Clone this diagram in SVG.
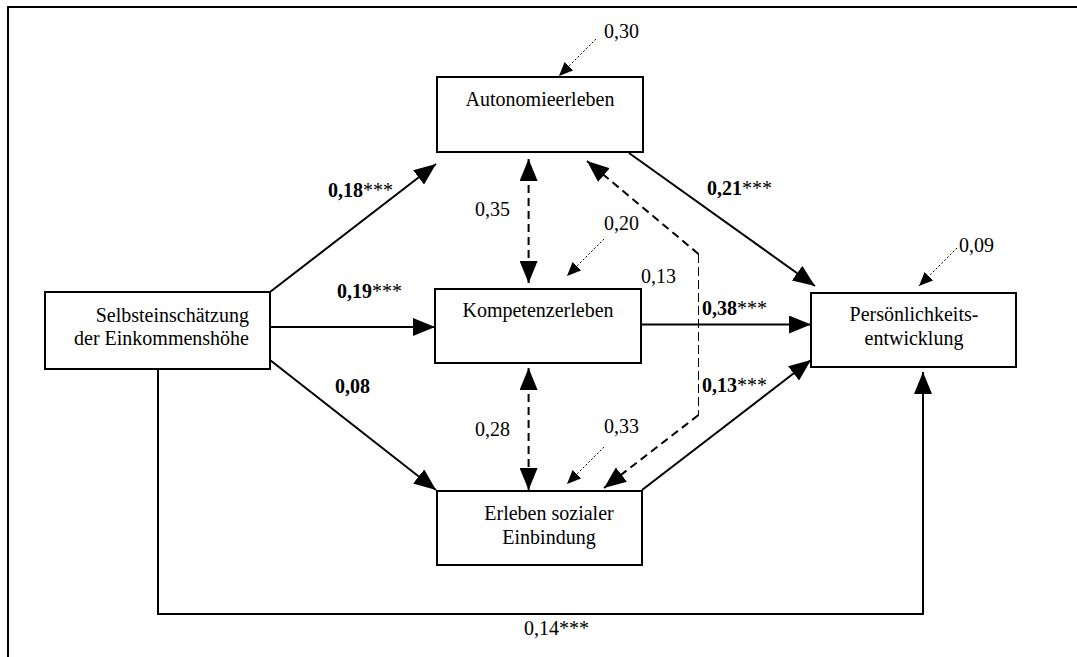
<svg xmlns="http://www.w3.org/2000/svg" width="1077" height="657" viewBox="0 0 1077 657" font-family="Liberation Serif, Times New Roman, DejaVu Serif, serif">
<style>
text{font-family:'Liberation Serif','Times New Roman','DejaVu Serif',serif;font-size:20px;fill:#000}
.b{font-weight:bold}
.box{fill:#fff;stroke:#000;stroke-width:2}
.ln{fill:none;stroke:#000;stroke-width:2}
.ds{fill:none;stroke:#000;stroke-width:2;stroke-dasharray:8,5}
.dt{fill:none;stroke:#000;stroke-width:1;stroke-dasharray:2,2}
.thin{fill:none;stroke:#000;stroke-width:1;stroke-dasharray:9,4}
</style>
<defs>
<marker id="ah" markerUnits="userSpaceOnUse" markerWidth="22" markerHeight="18" refX="22" refY="9" orient="auto"><path d="M0,0 L22,9 L0,18 z" fill="#000"/></marker>
<marker id="as" markerUnits="userSpaceOnUse" markerWidth="22" markerHeight="18" refX="0" refY="9" orient="auto"><path d="M22,0 L0,9 L22,18 z" fill="#000"/></marker>
<marker id="sm" markerUnits="userSpaceOnUse" markerWidth="14" markerHeight="12" refX="14" refY="6" orient="auto"><path d="M0,0 L14,6 L0,12 z" fill="#000"/></marker>
</defs>
<rect width="1077" height="657" fill="#fff"/>
<g id="frame"><path class="ln" d="M8,657 V7 H1077"/></g>
<g id="connectors">
<line class="ln" x1="270" y1="292" x2="436" y2="164" marker-end="url(#ah)"/>
<line class="ln" x1="270" y1="327" x2="435" y2="327" marker-end="url(#ah)"/>
<line class="ln" x1="270" y1="360" x2="436" y2="490" marker-end="url(#ah)"/>
<line class="ln" x1="629" y1="153" x2="815" y2="286" marker-end="url(#ah)"/>
<line class="ln" x1="641" y1="324.5" x2="811" y2="324.5" marker-end="url(#ah)"/>
<line class="ln" x1="642" y1="490" x2="811" y2="360" marker-end="url(#ah)"/>
<path class="ln" d="M158,369 V614 H923 V372" marker-end="url(#ah)"/>
<line class="ds" x1="528.6" y1="159" x2="528.6" y2="283" marker-start="url(#as)" marker-end="url(#ah)"/>
<line class="ds" x1="528.6" y1="368" x2="528.6" y2="490" marker-start="url(#as)" marker-end="url(#ah)"/>
<line class="ds" x1="698.5" y1="254" x2="587" y2="161" marker-end="url(#ah)"/>
<line class="thin" x1="698.5" y1="254" x2="698.5" y2="415"/>
<line class="ds" x1="698.5" y1="415" x2="604" y2="488" marker-end="url(#ah)"/>
<line class="dt" x1="596" y1="39" x2="559" y2="76" marker-end="url(#sm)"/>
<line class="dt" x1="604" y1="239" x2="567" y2="276" marker-end="url(#sm)"/>
<line class="dt" x1="957" y1="248" x2="919" y2="286" marker-end="url(#sm)"/>
<line class="dt" x1="604" y1="447" x2="567" y2="484" marker-end="url(#sm)"/>
</g>
<g id="n-autonomie"><rect class="box" x="437" y="77" width="206" height="75"/><text x="540" y="106" text-anchor="middle">Autonomieerleben</text></g>
<g id="n-selbst"><rect class="box" x="45" y="292" width="225" height="77"/><text x="249" y="322" text-anchor="end">Selbsteinschätzung</text><text x="249" y="345" text-anchor="end">der Einkommenshöhe</text></g>
<g id="n-kompetenz"><rect class="box" x="435" y="289" width="206" height="74"/><text x="538" y="317" text-anchor="middle">Kompetenzerleben</text></g>
<g id="n-erleben"><rect class="box" x="437" y="491" width="205" height="74"/><text x="549" y="520" text-anchor="middle">Erleben sozialer</text><text x="549" y="544" text-anchor="middle">Einbindung</text></g>
<g id="n-persoenlichkeit"><rect class="box" x="811" y="293" width="205" height="74"/><text x="914" y="321" text-anchor="middle">Persönlichkeits-</text><text x="914" y="345" text-anchor="middle">entwicklung</text></g>
<g id="labels">
<text x="604" y="38">0,30</text>
<text x="328" y="197"><tspan class="b">0,18</tspan>***</text>
<text x="475" y="216">0,35</text>
<text x="604" y="230">0,20</text>
<text x="707" y="195"><tspan class="b">0,21</tspan>***</text>
<text x="959" y="252">0,09</text>
<text x="337" y="298"><tspan class="b">0,19</tspan>***</text>
<text x="641" y="283">0,13</text>
<text x="702" y="315"><tspan class="b">0,38</tspan>***</text>
<text x="335" y="393" class="b">0,08</text>
<text x="702" y="392"><tspan class="b">0,13</tspan>***</text>
<text x="475" y="436">0,28</text>
<text x="604" y="433">0,33</text>
<text x="524" y="635">0,14***</text>
</g>
</svg>
